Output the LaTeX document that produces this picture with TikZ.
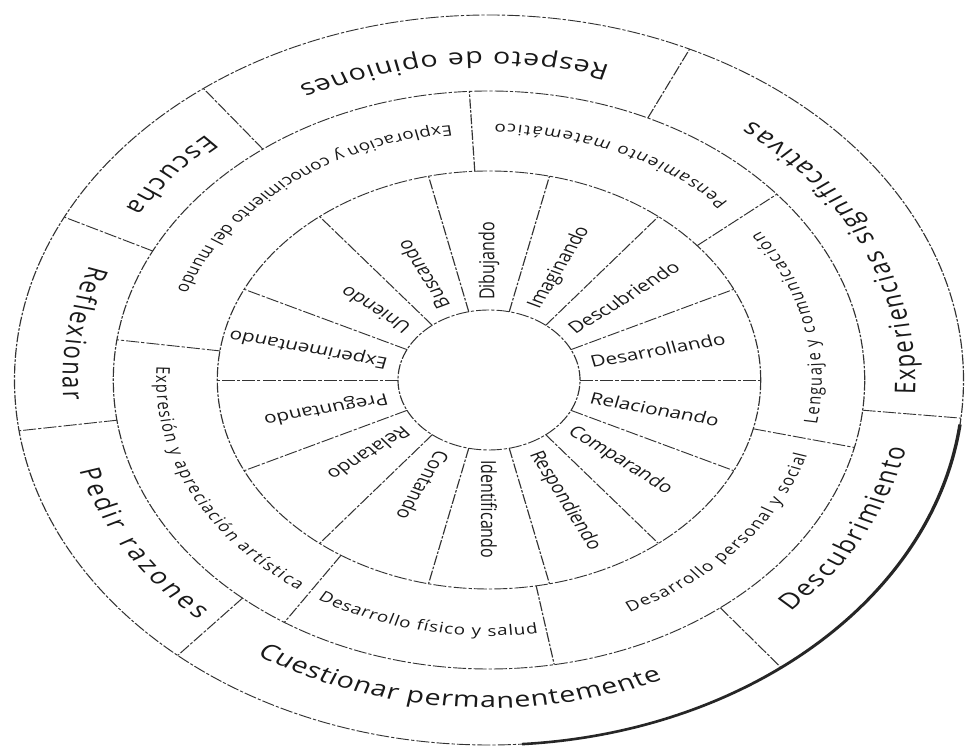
\documentclass[tikz,border=0pt]{standalone}
\usepackage{fontspec}
\setmainfont{Open Sans}
\usetikzlibrary{decorations.text}
\newcommand{\ringtext}[5]{%
  \path[decorate, decoration={text along path, text align={fit to path},
    text={|\fontsize{#4}{#4}\selectfont\color{black!90}|#5}}]
    (#2:#1) arc[start angle=#2, end angle=#3, radius=#1];}
\begin{document}
\begin{tikzpicture}[x=1pt,y=1pt,
  ring/.style={draw=black!80, line width=0.9pt, dash pattern=on 10pt off 1.6pt on 2.5pt off 1.6pt},
  verb/.style={font=\fontsize{16}{16}\selectfont, anchor=west, inner sep=0pt, text=black!90}]
\useasboundingbox (0,0) rectangle (967,749);
\fill[white] (0,0) rectangle (967,749);
\begin{scope}[transform canvas={shift={(489pt,369pt)}, xscale=1.3}]
  % rings
  \foreach \r in {70,209,289,365} \draw[ring] (0,0) circle[radius=\r];
  \draw[line width=2.6pt, black!85] (-86:365) arc[start angle=-86, end angle=-7, radius=365];
  % spokes
  \foreach \i in {0,...,13} \draw[ring] ({\i*360/14}:70) -- ({\i*360/14}:209);
  \foreach \a in {93,40,-13.5,-80,-123,172} \draw[ring] (\a:209) -- (\a:289);
  \foreach \a in {65,-6,-52,-131,188,153.5,127} \draw[ring] (\a:289) -- (\a:365);
  % verbs
  \foreach \w [count=\k from 0] in {Desarrollando,Descubriendo,Imaginando,Dibujando,Buscando,Uniendo,Experimentando,Preguntando,Relatando,Contando,Identificando,Respondiendo,Comparando,Relacionando} {
    \pgfmathsetmacro\ang{12.857+25.714*\k}
    \node[verb, rotate=\ang] (v\k) at (\ang:80) {\w};
  }
  % areas
  \ringtext{256}{44}{89}{14.5}{Pensamiento matemático}
  \ringtext{256}{96.5}{159.5}{14.5}{Exploración y conocimiento del mundo}
  \ringtext{256}{177}{235}{14.5}{Expresión y apreciación artística}
  \ringtext{256}{239}{278.5}{14.5}{Desarrollo físico y salud}
  \ringtext{256}{295}{343}{14.5}{Desarrollo personal y social}
  \ringtext{256}{-10}{35.5}{14.5}{Lenguaje y comunicación}
  % values
  \ringtext{328}{-2.6}{52}{22}{Experiencias significativas}
  \ringtext{328}{73.5}{116.5}{22}{Respeto de opiniones}
  \ringtext{328}{131.5}{148.5}{22}{Escucha}
  \ringtext{328}{159.5}{183.5}{22}{Reflexionar}
  \ringtext{328}{196}{227}{22}{Pedir razones}
  \ringtext{328}{237}{294}{22}{Cuestionar permanentemente}
  \ringtext{328}{315}{348}{22}{Descubrimiento}
\end{scope}
\end{tikzpicture}
\end{document}
